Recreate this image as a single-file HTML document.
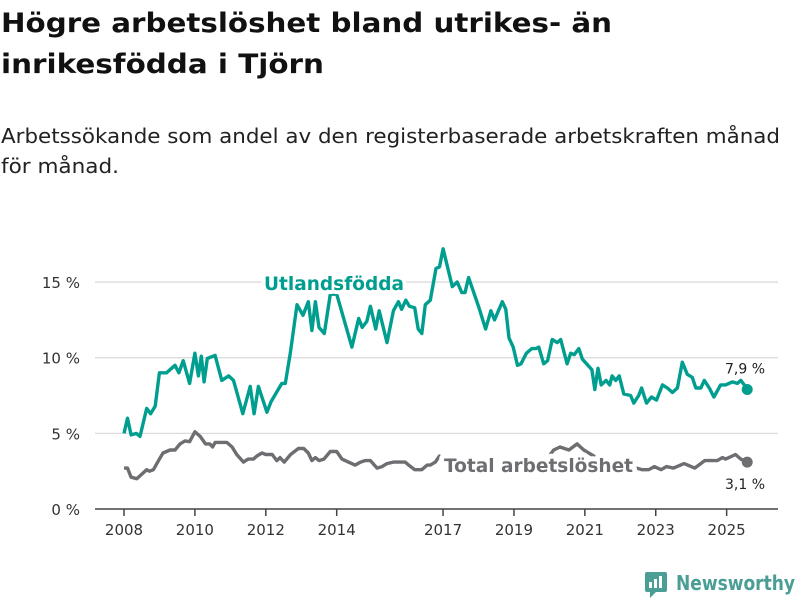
<!DOCTYPE html>
<html><head><meta charset="utf-8"><style>
body{margin:0;background:#fff;}
svg{display:block;font-family:"DejaVu Sans","Liberation Sans",sans-serif;}
</style></head><body>
<svg id="chart" width="800" height="600" viewBox="0 0 800 600">
<text x="1" y="32" font-size="27" font-weight="bold" fill="#111" textLength="611" lengthAdjust="spacingAndGlyphs">Högre arbetslöshet bland utrikes- än</text>
<text x="1" y="73" font-size="27" font-weight="bold" fill="#111" textLength="323" lengthAdjust="spacingAndGlyphs">inrikesfödda i Tjörn</text>
<text x="1" y="143" font-size="20" fill="#222" textLength="779" lengthAdjust="spacingAndGlyphs">Arbetssökande som andel av den registerbaserade arbetskraften månad</text>
<text x="1" y="173" font-size="20" fill="#222" textLength="118" lengthAdjust="spacingAndGlyphs">för månad.</text>
<g id="grid"></g>
<g id="xaxis"></g>
<g id="series"></g>
<g>
<rect x="645" y="572" width="22" height="20" rx="2" fill="#4a9e94"/>
<polygon points="650,592 656,592 650,598" fill="#4a9e94"/>
<rect x="649" y="582" width="3" height="6" fill="#fff"/><rect x="654" y="579" width="3" height="9" fill="#fff"/><rect x="659" y="576" width="3" height="12" fill="#fff"/>
<text x="676" y="590" font-size="20" font-weight="bold" fill="#4a9e94" textLength="119" lengthAdjust="spacingAndGlyphs">Newsworthy</text>
</g>
</svg>
<script>
const yTicks=[0,5,10,15];
const xTickYears=[2008,2010,2012,2014,2017,2019,2021,2023,2025];
const utlDates=[2008.0,2008.1,2008.2,2008.35,2008.45,2008.64,2008.75,2008.88,2009.0,2009.2,2009.44,2009.55,2009.67,2009.85,2010.0,2010.1,2010.18,2010.26,2010.35,2010.57,2010.76,2010.95,2011.09,2011.35,2011.56,2011.67,2011.79,2012.03,2012.15,2012.25,2012.45,2012.55,2012.69,2012.88,2013.05,2013.2,2013.3,2013.4,2013.5,2013.65,2013.82,2014.0,2014.1,2014.43,2014.62,2014.72,2014.85,2014.95,2015.1,2015.2,2015.42,2015.6,2015.74,2015.83,2015.95,2016.05,2016.2,2016.3,2016.4,2016.5,2016.64,2016.8,2016.9,2017.0,2017.26,2017.4,2017.53,2017.62,2017.72,2018.0,2018.2,2018.35,2018.45,2018.67,2018.77,2018.86,2018.98,2019.1,2019.2,2019.35,2019.5,2019.62,2019.7,2019.84,2019.95,2020.08,2020.22,2020.32,2020.5,2020.6,2020.7,2020.83,2020.93,2021.05,2021.2,2021.28,2021.37,2021.46,2021.6,2021.7,2021.77,2021.87,2021.97,2022.1,2022.29,2022.38,2022.52,2022.6,2022.74,2022.88,2023.02,2023.19,2023.33,2023.47,2023.61,2023.75,2023.89,2024.03,2024.13,2024.27,2024.37,2024.51,2024.64,2024.83,2024.97,2025.16,2025.3,2025.4,2025.53,2025.58];
const utlValues=[5.0,6.0,4.9,5.0,4.8,6.65,6.3,6.8,9.0,9.0,9.5,9.0,9.8,8.3,10.3,8.8,10.1,8.4,9.95,10.15,8.5,8.8,8.5,6.3,8.1,6.3,8.1,6.4,7.1,7.5,8.3,8.3,10.3,13.5,12.8,13.7,11.8,13.7,12.0,11.6,14.2,14.2,13.4,10.7,12.6,12.0,12.4,13.4,11.9,13.1,11.0,13.1,13.7,13.2,13.8,13.4,13.3,11.9,11.6,13.5,13.8,15.9,16.0,17.2,14.7,15.0,14.3,14.3,15.3,13.4,11.9,13.1,12.5,13.7,13.2,11.3,10.7,9.5,9.6,10.3,10.6,10.6,10.7,9.6,9.8,11.2,11.0,11.2,9.6,10.3,10.2,10.6,9.9,9.6,9.2,7.9,9.3,8.2,8.5,8.2,8.8,8.5,8.8,7.6,7.5,7.0,7.5,8.0,7.0,7.4,7.2,8.2,8.0,7.7,8.0,9.7,8.9,8.7,8.0,8.0,8.5,8.0,7.4,8.2,8.2,8.4,8.3,8.5,8.1,7.9];
const totDates=[2008.0,2008.1,2008.2,2008.36,2008.5,2008.64,2008.72,2008.83,2009.0,2009.1,2009.3,2009.44,2009.58,2009.72,2009.85,2010.0,2010.15,2010.3,2010.42,2010.5,2010.57,2010.7,2010.9,2011.05,2011.18,2011.37,2011.5,2011.65,2011.75,2011.89,2012.0,2012.18,2012.31,2012.4,2012.52,2012.7,2012.92,2013.07,2013.2,2013.3,2013.4,2013.5,2013.64,2013.82,2014.0,2014.15,2014.33,2014.52,2014.67,2014.8,2014.95,2015.14,2015.28,2015.42,2015.6,2015.93,2016.03,2016.2,2016.4,2016.55,2016.64,2016.78,2016.9,2017.3,2017.8,2018.3,2018.8,2019.3,2019.8,2020.12,2020.3,2020.55,2020.78,2020.97,2021.25,2021.6,2022.0,2022.46,2022.62,2022.8,2022.96,2023.15,2023.3,2023.5,2023.8,2024.1,2024.38,2024.74,2024.88,2024.97,2025.16,2025.25,2025.4,2025.58];
const totValues=[2.7,2.7,2.1,2.0,2.3,2.6,2.5,2.6,3.3,3.7,3.9,3.9,4.3,4.5,4.45,5.1,4.8,4.3,4.3,4.1,4.4,4.4,4.4,4.1,3.6,3.1,3.3,3.3,3.5,3.7,3.6,3.6,3.2,3.4,3.1,3.6,4.0,4.0,3.7,3.2,3.4,3.2,3.3,3.8,3.8,3.3,3.1,2.9,3.1,3.2,3.2,2.7,2.8,3.0,3.1,3.1,2.9,2.6,2.6,2.9,2.9,3.1,3.5,3.0,2.9,2.8,2.8,2.7,2.9,3.9,4.1,3.9,4.3,3.9,3.5,2.9,2.7,2.7,2.6,2.6,2.8,2.6,2.8,2.7,3.0,2.7,3.2,3.2,3.4,3.3,3.5,3.6,3.3,3.1];
const NS='http://www.w3.org/2000/svg';
const X0=124,PX_YEAR=35.45,Y0=509,PX_PCT=15.13;
function xs(d){return X0+(d-2008)*PX_YEAR;}
function ys(v){return Y0-v*PX_PCT;}
function mk(tag,attrs,parent){const e=document.createElementNS(NS,tag);for(const k in attrs)e.setAttribute(k,attrs[k]);parent.appendChild(e);return e;}
const grid=document.getElementById('grid'),xa=document.getElementById('xaxis'),ser=document.getElementById('series');
yTicks.forEach(t=>{
  if(t>0){const l=mk('line',{x1:95,x2:778,y1:ys(t),y2:ys(t),stroke:'#dcdcdc','stroke-width':1.3},grid);
  
  }
  const tx=mk('text',{x:80,y:ys(t)+6,'font-size':15,fill:'#333','text-anchor':'end'},grid);
  tx.textContent=t+' %';
  
  
});
const ax=mk('line',{x1:95,x2:778,y1:Y0,y2:Y0,stroke:'#444','stroke-width':1.5},xa);


xTickYears.forEach(yr=>{
  const tk=mk('line',{x1:xs(yr),x2:xs(yr),y1:Y0,y2:Y0+7,stroke:'#444','stroke-width':1.5},xa);
  
  
  const tx=mk('text',{x:xs(yr),y:Y0+26,'font-size':15,fill:'#333','text-anchor':'middle'},xa);
  tx.textContent=yr;
  
  
});
function path(ds,vs){return ds.map((d,i)=>(i?'L':'M')+xs(d).toFixed(1)+','+ys(vs[i]).toFixed(1)).join('');}
const pt=mk('path',{d:path(totDates,totValues),fill:'none',stroke:'#6e6d72','stroke-width':3.4,'stroke-linejoin':'round'},ser);


const pu=mk('path',{d:path(utlDates,utlValues),fill:'none',stroke:'#009e8f','stroke-width':3.4,'stroke-linejoin':'round'},ser);


const lu=mk('text',{x:264,y:290,'font-size':19,'font-weight':'bold',fill:'#009e8f',stroke:'#fff','stroke-width':8,'paint-order':'stroke','stroke-linejoin':'round',textLength:140,lengthAdjust:'spacingAndGlyphs'},ser);
lu.textContent='Utlandsfödda';


const lt=mk('text',{x:444,y:472,'font-size':19,'font-weight':'bold',fill:'#6e6d72',stroke:'#fff','stroke-width':10,'paint-order':'stroke','stroke-linejoin':'round',textLength:189,lengthAdjust:'spacingAndGlyphs'},ser);
lt.textContent='Total arbetslöshet';


const lastU=utlValues.length-1,lastT=totValues.length-1;
const du=mk('circle',{cx:xs(utlDates[lastU]),cy:ys(utlValues[lastU]),r:5.5,fill:'#009e8f'},ser);


const dt=mk('circle',{cx:xs(totDates[lastT]),cy:ys(totValues[lastT]),r:5.5,fill:'#6e6d72'},ser);


const vu=mk('text',{x:745,y:ys(utlValues[lastU])-16,'font-size':14,fill:'#222','text-anchor':'middle'},ser);
vu.textContent=String(utlValues[lastU]).replace('.',',')+' %';


const vt=mk('text',{x:745,y:ys(totValues[lastT])+27,'font-size':14,fill:'#222','text-anchor':'middle'},ser);
vt.textContent=String(totValues[lastT]).replace('.',',')+' %';


</script>
</body></html>
